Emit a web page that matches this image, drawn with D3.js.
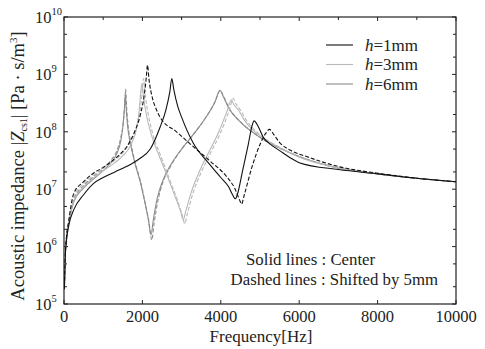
<!DOCTYPE html>
<html><head><meta charset="utf-8">
<script src="https://cdn.jsdelivr.net/npm/d3@7"></script>
<style>body{margin:0;background:#fff}svg{display:block}text{font-family:"Liberation Serif","Times New Roman",Times,serif;fill:#222}</style>
</head><body><svg id="c" width="485" height="349"></svg>
<script>
// ---- data (frequency in Hz, impedance in Pa·s/m^3) ----
const xTicks = [0, 2000, 4000, 6000, 8000, 10000];
const yExponents = [5, 6, 7, 8, 9, 10];
const legendLabels = ["1mm", "3mm", "6mm"];

const f1s = [10,30,60,120,250,500,750,1000,1300,1600,1900,2200,2450,2600,2700,2750,2800,2900,3000,3300,3700,4000,4200,4300,4370,4420,4550,4700,4800,4850,4950,5085,5300,5500,5750,6000,7000,8000,9000,10000];
const z1s = [1.8e5,6e5,1.2e6,2.3e6,4.4e6,8e6,1.25e7,1.6e7,2e7,2.5e7,3.3e7,5e7,1.2e8,2.4e8,5e8,8.5e8,5.5e8,2.8e8,1.8e8,6.3e7,2.8e7,1.6e7,1.1e7,8e6,6.8e6,8e6,2e7,6e7,1.3e8,1.55e8,1.25e8,8e7,5.8e7,4.7e7,3.6e7,2.9e7,2.2e7,1.85e7,1.55e7,1.35e7];

const f1d = [10,30,60,120,250,500,750,1000,1200,1400,1600,1800,1950,2050,2100,2130,2170,2250,2350,2450,2870,3300,3700,4150,4350,4480,4530,4600,4800,5000,5150,5240,5350,5500,5765,6190,7040,8000,9000,10000];
const z1d = [2e5,7e5,1.4e6,2.8e6,8.5e6,1.35e7,1.9e7,2.4e7,3e7,3.9e7,5.5e7,1e8,2e8,4.5e8,9e8,1.45e9,8e8,4e8,2.5e8,1.8e8,1e8,5.5e7,3.2e7,1.65e7,1.05e7,6.5e6,5.5e6,8e6,2.5e7,6e7,9.5e7,1.1e8,9e7,6.5e7,4.8e7,3.7e7,2.45e7,1.9e7,1.55e7,1.35e7];

const f3s = [10,30,60,120,250,500,750,1000,1300,1500,1700,1850,1920,1960,1990,2030,2100,2250,2450,2650,2850,2980,3040,3100,3250,3450,3700,3950,4150,4270,4330,4450,4600,4800,5000,5500,6000,7000,8000,9000,10000];
const z3s = [1.9e5,6.5e5,1.3e6,2.6e6,6.3e6,1.1e7,1.55e7,2.1e7,2.9e7,3.8e7,5.8e7,1.15e8,2.4e8,5e8,7e8,4e8,2e8,8e7,3.5e7,1.6e7,7e6,4e6,2.9e6,4e6,9e6,2e7,4.5e7,1e8,2.2e8,3.6e8,3e8,2.4e8,1.6e8,1.1e8,8.5e7,5.3e7,3.6e7,2.35e7,1.85e7,1.55e7,1.35e7];

const f3d = [10,30,60,120,250,500,750,1000,1300,1500,1700,1880,1960,2000,2030,2070,2140,2290,2490,2690,2890,3020,3080,3140,3290,3490,3740,3990,4200,4320,4380,4500,4650,4850,5000,5500,6000,7000,8000,9000,10000];
const z3d = [1.95e5,6.8e5,1.35e6,2.7e6,7.2e6,1.25e7,1.75e7,2.3e7,3.2e7,4.3e7,6.8e7,1.4e8,3e8,5.5e8,8.5e8,4.5e8,2.2e8,8e7,3.5e7,1.5e7,6.5e6,3.5e6,2.5e6,3.6e6,8.5e6,1.9e7,4.3e7,9.5e7,2.2e8,3.8e8,3.1e8,2.4e8,1.6e8,1.1e8,8.8e7,5.4e7,3.7e7,2.4e7,1.87e7,1.55e7,1.35e7];

const f6s = [10,30,60,120,250,500,750,1000,1200,1350,1450,1500,1540,1565,1580,1620,1700,1800,1950,2050,2150,2220,2280,2380,2500,2700,3000,3300,3600,3850,3980,4050,4200,4490,5000,5765,7040,8000,9000,10000];
const z6s = [1.9e5,6.5e5,1.3e6,2.5e6,6e6,1.05e7,1.5e7,2.1e7,2.9e7,4.2e7,7e7,1.2e8,2.5e8,4.5e8,3e8,1.3e8,6e7,3e7,1.3e7,6.5e6,3e6,1.6e6,3e6,7e6,1.3e7,2.5e7,5e7,9e7,1.7e8,3.3e8,5.3e8,4.3e8,2.6e8,1.5e8,8e7,4.3e7,2.3e7,1.85e7,1.55e7,1.35e7];

const f6d = [10,30,60,120,250,500,750,1000,1200,1350,1450,1510,1550,1575,1590,1630,1710,1810,1960,2060,2170,2240,2300,2400,2520,2720,3000,3300,3600,3850,3990,4060,4210,4500,5000,5765,7040,8000,9000,10000];
const z6d = [1.95e5,6.8e5,1.35e6,2.6e6,6.5e6,1.15e7,1.65e7,2.3e7,3.2e7,4.7e7,8e7,1.4e8,2.9e8,5.5e8,3.3e8,1.4e8,6.2e7,3e7,1.3e7,6.2e6,2.6e6,1.3e6,2.6e6,6.5e6,1.3e7,2.5e7,5e7,9e7,1.7e8,3.3e8,5.3e8,4.3e8,2.6e8,1.5e8,8e7,4.3e7,2.3e7,1.85e7,1.55e7,1.35e7];

const series = [
  {f: f6s, z: z6s, color: "#8c8c8c", dash: null},
  {f: f6d, z: z6d, color: "#8c8c8c", dash: "4,2"},
  {f: f3s, z: z3s, color: "#b8b8b8", dash: null},
  {f: f3d, z: z3d, color: "#b8b8b8", dash: "4,2"},
  {f: f1d, z: z1d, color: "#111", dash: "4,2"},
  {f: f1s, z: z1s, color: "#111", dash: null}
];
const legendColors = ["#111", "#b8b8b8", "#8c8c8c"];

// ---- layout ----
const svg = d3.select("#c");
const L = 64, R = 456, T = 17, B = 304;
const x = d3.scaleLinear().domain([0, 10000]).range([L, R]);
const y = d3.scaleLog().domain([1e5, 1e10]).range([B, T]);

const g = svg.append("g");
g.append("rect").attr("x", L).attr("y", T).attr("width", R - L).attr("height", B - T)
  .attr("fill", "none").attr("stroke", "#222").attr("stroke-width", 1.2);

// y ticks (inward, both sides)
const minorY = [];
for (let e = 5; e < 10; e++) [1,2,5].forEach(m => minorY.push(m * Math.pow(10, e)));
minorY.push(1e10);
minorY.forEach(v => {
  const major = Math.abs(Math.log10(v) % 1) < 1e-9;
  const len = major ? 4 : 3;
  g.append("line").attr("x1", L).attr("x2", L + len).attr("y1", y(v)).attr("y2", y(v)).attr("stroke", "#222");
  g.append("line").attr("x1", R).attr("x2", R - len).attr("y1", y(v)).attr("y2", y(v)).attr("stroke", "#222");
});
// x ticks
d3.range(0, 10001, 1000).forEach(v => {
  const major = v % 2000 === 0;
  if (major) g.append("line").attr("x1", x(v)).attr("x2", x(v)).attr("y1", B).attr("y2", B - 4).attr("stroke", "#222");
  g.append("line").attr("x1", x(v)).attr("x2", x(v)).attr("y1", T).attr("y2", T + (major ? 4 : 3)).attr("stroke", "#222");
});

// tick labels
xTicks.forEach(v => {
  g.append("text").attr("x", x(v)).attr("y", 322).attr("text-anchor", "middle")
    .attr("font-size", 16.5).text(v);
});
yExponents.forEach(e => {
  const t = g.append("text").attr("x", 35).attr("y", y(Math.pow(10, e)) + 6).attr("font-size", 16.5);
  t.append("tspan").text("10");
  t.append("tspan").attr("dy", -8).attr("font-size", 10.5).text(e);
});
g.append("text").attr("x", 261).attr("y", 342).attr("text-anchor", "middle")
  .attr("font-size", 17).text("Frequency[Hz]");

const yl = g.append("text").attr("transform", "translate(24,166) rotate(-90)")
  .attr("text-anchor", "middle").attr("font-size", 18.5);
yl.append("tspan").text("Acoustic impedance |");
yl.append("tspan").attr("font-style", "italic").text("Z");
yl.append("tspan").attr("font-size", 10).attr("dy", 3).text("cs1");
yl.append("tspan").attr("dy", -3).text("| [Pa · s/m");
yl.append("tspan").attr("font-size", 11).attr("dy", -7).text("3");
yl.append("tspan").attr("dy", 7).text("]");

// curves
const line = d3.line().x(d => x(d[0])).y(d => y(d[1])).curve(d3.curveMonotoneX);
svg.append("clipPath").attr("id", "clp").append("rect").attr("x", L).attr("y", T).attr("width", R - L).attr("height", B - T);
series.forEach(s => {
  const pts = s.f.map((f, i) => [f, s.z[i]]);
  g.append("path").attr("d", line(pts)).attr("fill", "none").attr("stroke", s.color)
    .attr("stroke-width", 1.1).attr("stroke-dasharray", s.dash).attr("clip-path", "url(#clp)");
});

// legend
legendLabels.forEach((lab, i) => {
  const ly = 45 + i * 19.5;
  g.append("line").attr("x1", 326).attr("x2", 353).attr("y1", ly).attr("y2", ly)
    .attr("stroke", legendColors[i]).attr("stroke-width", 1.1);
  const t = g.append("text").attr("x", 365).attr("y", ly + 5.5).attr("font-size", 17);
  t.append("tspan").attr("font-style", "italic").text("h");
  t.append("tspan").text("=" + lab);
});

// annotations
g.append("text").attr("x", 246).attr("y", 265).attr("font-size", 16.8).text("Solid lines : Center");
g.append("text").attr("x", 438).attr("y", 285).attr("text-anchor", "end").attr("font-size", 16.8).text("Dashed lines : Shifted by 5mm");
</script></body></html>
